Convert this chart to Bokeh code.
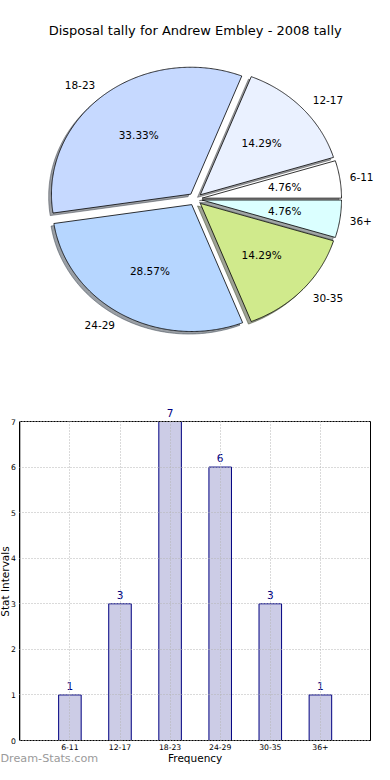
import numpy as np
from bokeh.plotting import figure
from bokeh.models import Range1d, Label, FixedTicker, ColumnDataSource
from bokeh.layouts import column
from bokeh.embed import file_html
from bokeh.resources import INLINE
from bokeh.core.properties import value

# ---------------- data ----------------
categories = ["6-11", "12-17", "18-23", "24-29", "30-35", "36+"]
counts = [1, 3, 7, 6, 3, 1]
y_ticks = [0, 1, 2, 3, 4, 5, 6, 7]
title_text = "Disposal tally for Andrew Embley - 2008 tally"
x_label = "Frequency"
y_label = "Stat Intervals"
watermark = "Dream-Stats.com"

# ---------------- styles ----------------
slice_colors = ["#ffffff", "#eaf1ff", "#c6d9ff", "#b6d6ff", "#d0ea8c", "#dbffff"]
FONT = "DejaVu Sans"
W = 374
PIE_H = 383
BAR_H = 381

# pie geometry (pixels inside pie canvas); elliptical like the original
CX_PX, CY_PX = 194.7, 198.6
SX, SY = 139.4, 126.9
EXPLODE = 0.05
SHADOW = 0.02

pie = figure(width=W, height=PIE_H,
             x_range=Range1d(-CX_PX / SX, (W - CX_PX) / SX),
             y_range=Range1d(-(PIE_H - CY_PX) / SY, CY_PX / SY),
             x_axis_location=None, y_axis_location=None,
             toolbar_location=None, output_backend="svg",
             min_border=0, outline_line_color=None)
pie.xgrid.visible = False
pie.ygrid.visible = False

total = float(sum(counts))
fracs = np.array(counts, dtype=float) / total
theta2 = 2 * np.pi * np.cumsum(fracs)
theta1 = theta2 - 2 * np.pi * fracs
mids = (theta1 + theta2) / 2
offx = EXPLODE * np.cos(mids)
offy = EXPLODE * np.sin(mids)

xs, ys, shx, shy = [], [], [], []
for t1, t2, cx, cy in zip(theta1, theta2, offx, offy):
    n = max(int(np.degrees(t2 - t1)) * 2, 4)
    t = np.linspace(t1, t2, n)
    px = np.concatenate([[cx], cx + np.cos(t), [cx]])
    py = np.concatenate([[cy], cy + np.sin(t), [cy]])
    xs.append(px.tolist())
    ys.append(py.tolist())
    shx.append((px - SHADOW).tolist())
    shy.append((py - SHADOW).tolist())


def shade(hexc):
    r = int(hexc[1:3], 16) * 0.3
    g = int(hexc[3:5], 16) * 0.3
    b = int(hexc[5:7], 16) * 0.3
    return "#%02x%02x%02x" % (int(r), int(g), int(b))


shadow_colors = [shade(c) for c in slice_colors]
pie.patches(xs=shx, ys=shy, fill_color=shadow_colors, fill_alpha=0.5,
            line_color=shadow_colors, line_alpha=0.5, line_width=1)
pie.patches(xs=xs, ys=ys, fill_color=slice_colors, line_color="black",
            line_width=0.8)

# category labels (labeldistance 1.1 from exploded centre)
lx = offx + 1.1 * np.cos(mids)
ly = offy + 1.1 * np.sin(mids)
right_side = lx > 0
for mask, align in ((right_side, "left"), (~right_side, "right")):
    # labels at the far right are nudged in so they stay inside the canvas
    xoff = [(-4 if np.cos(m) > 0.9 else 0) for m, k in zip(mids, mask) if k]
    pie.text(x=lx[mask].tolist(), y=ly[mask].tolist(),
             text=[c for c, k in zip(categories, mask) if k],
             x_offset=xoff, text_align=align, text_baseline="middle",
             text_font=value(FONT), text_font_size="10.5px", text_color="black")

# percentage labels (pctdistance 0.6)
px_ = offx + 0.6 * np.cos(mids)
py_ = offy + 0.6 * np.sin(mids)
pct = ["%.2f%%" % (100.0 * f) for f in fracs]
pie.text(x=px_.tolist(), y=py_.tolist(), text=pct, text_align="center",
         text_baseline="middle", text_font=value(FONT),
         text_font_size="10.5px", text_color="black")

pie.add_layout(Label(x=0.0, y=(CY_PX - 29.5) / SY, text=title_text,
                     text_align="center", text_baseline="middle",
                     text_font=FONT, text_font_size="13px",
                     text_color="black"))

# ---------------- bar chart ----------------
# axes box inside the bar canvas (pixels)
BOX_L, BOX_R, BOX_T, BOX_B = 19.3, 370.0, 38.0, 357.0
xpos = list(range(1, len(categories) + 1))
x_end = len(categories) + 1
y_end = max(y_ticks)
ppx = (BOX_R - BOX_L) / x_end
ppy = (BOX_B - BOX_T) / y_end

bar = figure(width=W, height=BAR_H,
             x_range=Range1d(-BOX_L / ppx, x_end + (W - BOX_R) / ppx),
             y_range=Range1d(-(BAR_H - BOX_B) / ppy, y_end + BOX_T / ppy),
             toolbar_location=None, output_backend="svg",
             min_border=0, outline_line_color=None)

src = ColumnDataSource(dict(x=xpos, top=counts))
bar.vbar(x="x", top="top", width=0.45, source=src,
         fill_color="#cccce6", line_color="#000080", line_width=1)

# dotted grid restricted to the axes box
for g in (bar.xgrid, bar.ygrid):
    g.grid_line_color = "#b4b4b4"
    g.grid_line_dash = "1 2"
    g.grid_line_width = 1
    g.level = "overlay"
try:
    bar.xgrid.cross_bounds = (0, y_end)
    bar.ygrid.cross_bounds = (0, x_end)
    bar.xgrid.bounds = (0, x_end)
    bar.ygrid.bounds = (0, y_end)
except Exception:
    bar.xgrid.visible = False
    bar.ygrid.visible = False
    bar.segment(x0=xpos, y0=[0] * len(xpos), x1=xpos, y1=[y_end] * len(xpos),
                line_color="#b4b4b4", line_dash="1 2", level="overlay")
    bar.segment(x0=[0] * len(y_ticks), y0=y_ticks, x1=[x_end] * len(y_ticks),
                y1=y_ticks, line_color="#b4b4b4", line_dash="1 2",
                level="overlay")

# axes box frame
bar.quad(left=[0], right=[x_end], bottom=[0], top=[y_end], fill_color=None,
         line_color="black", line_width=1, level="overlay")

for xv, c in zip(xpos, counts):
    bar.add_layout(Label(x=xv, y=c, text=str(c), y_offset=9,
                         text_align="center", text_baseline="middle",
                         text_font=FONT, text_font_size="10.5px",
                         text_color="#000080"))

bar.xaxis.ticker = FixedTicker(ticks=xpos)
bar.xaxis.major_label_overrides = {x: c for x, c in zip(xpos, categories)}
bar.yaxis.ticker = FixedTicker(ticks=y_ticks)
bar.xaxis.fixed_location = 0
bar.yaxis.fixed_location = 0
bar.xaxis.bounds = (0, x_end)
bar.yaxis.bounds = (0, y_end)

for ax in (bar.xaxis, bar.yaxis):
    ax.axis_line_color = "black"
    ax.major_tick_in = 0
    ax.major_tick_out = 0
    ax.minor_tick_line_color = None
    ax.major_label_text_font = FONT
    ax.major_label_text_font_size = "7.7px"
    ax.major_label_text_color = "black"
bar.xaxis.major_label_standoff = 3
bar.yaxis.major_label_standoff = 4

# axis titles and watermark (kept inside the canvas)
bar.add_layout(Label(x=x_end / 2, y=-17.5 / ppy, text=x_label,
                     text_align="center", text_baseline="middle",
                     text_font=FONT, text_font_size="10.5px",
                     text_color="black"))
bar.add_layout(Label(x=-(BOX_L - 4.5) / ppx, y=y_end / 2 - 0.011,
                     text=y_label, angle=np.pi / 2, text_align="center",
                     text_baseline="middle", text_font=FONT,
                     text_font_size="10.5px", text_color="black"))
bar.add_layout(Label(x=-BOX_L / ppx, y=-17.5 / ppy, text=watermark,
                     text_align="left", text_baseline="middle",
                     text_font=FONT, text_font_size="11.2px",
                     text_color="#9a9a9a"))

layout = column(pie, bar, spacing=0)
open("out.html", "w").write(file_html(layout, INLINE))
